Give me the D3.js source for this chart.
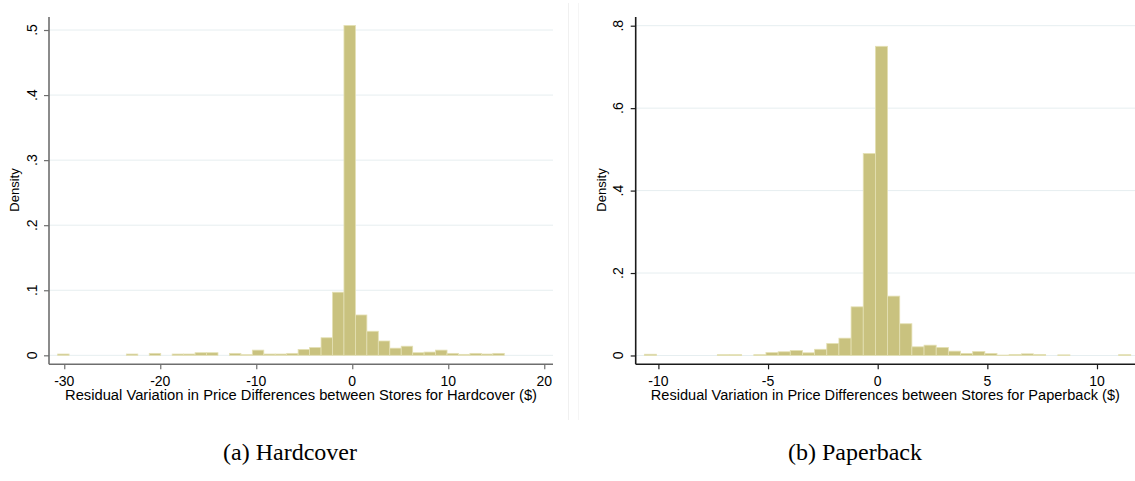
<!DOCTYPE html>
<html lang="en">
<head>
<meta charset="utf-8">
<title>Residual price differences</title>
<script src="https://cdn.jsdelivr.net/npm/d3@7"></script>
<style>
  html, body { margin: 0; padding: 0; background: #fff; }
  svg { display: block; }
  .tick-label { font-family: "Liberation Sans", Arial, sans-serif; font-size: 14px; fill: #000; }
  .axis-title { font-family: "Liberation Sans", Arial, sans-serif; font-size: 13px; fill: #000; }
  .x-title { font-size: 14px; }
  .caption { font-family: "Liberation Serif", "DejaVu Serif", serif; font-size: 24px; fill: #000; }
</style>
</head>
<body>
<div id="chart"></div>
<script>
// hardcover histogram: 39 bins
const hcStart = -30.69;
const hcWidth = 1.193;
const hcDensity = [
  0.002, 0, 0, 0, 0, 0, 0.002, 0, 0.003, 0,
  0.002, 0.002, 0.004, 0.004, 0, 0.003, 0.001, 0.008, 0.002, 0.002,
  0.003, 0.009, 0.012, 0.027, 0.097, 0.507, 0.062, 0.037, 0.022, 0.011,
  0.014, 0.004, 0.005, 0.008, 0.003, 0.0015, 0.003, 0.002, 0.003
];
const hcXTicks = [-30, -20, -10, 0, 10, 20];
const hcYTicks = [0, 0.1, 0.2, 0.3, 0.4, 0.5];

// paperback histogram: 40 bins
const pbStart = -10.64;
const pbWidth = 0.5545;
const pbDensity = [
  0.003, 0, 0, 0, 0, 0, 0.002, 0.002, 0, 0.002,
  0.007, 0.009, 0.012, 0.0065, 0.015, 0.029, 0.042, 0.118, 0.49, 0.75,
  0.144, 0.077, 0.021, 0.025, 0.0195, 0.0105, 0.005, 0.0095, 0.005, 0.001,
  0.0025, 0.004, 0.0025, 0, 0.0015, 0, 0, 0, 0, 0.002
];
const pbXTicks = [-10, -5, 0, 5, 10];
const pbYTicks = [0, 0.2, 0.4, 0.6, 0.8];

const W = 1135, H = 481;
const BAR_FILL = "#c9c27f", BAR_EDGE = "#e4e0b4", GRID = "#e6eef0";

var svg = d3.select("#chart").append("svg")
    .attr("width", W)
    .attr("height", H);

// faint frame lines between the two panels
svg.append("line").attr("x1", 568.5).attr("x2", 568.5).attr("y1", 3).attr("y2", 420)
    .attr("stroke", "#f0f0f0");
svg.append("line").attr("x1", 578.5).attr("x2", 578.5).attr("y1", 3).attr("y2", 420)
    .attr("stroke", "#f5f5f5");

// stata-like tick labels: ".5" instead of "0.5"
function stataFmt(v) {
  if (v === 0) return "0";
  var s = String(+v.toFixed(3));
  return s.replace(/^(-?)0\./, "$1.");
}

function panel(opt) {
  var x = d3.scaleLinear().domain(opt.xDomain).range([opt.left, opt.right]);
  var y = d3.scaleLinear().domain(opt.yDomain).range([opt.bottom, opt.top]);
  var g = svg.append("g");

  // gridlines
  g.selectAll(".grid").data(opt.yTicks).enter().append("line")
      .attr("x1", opt.left).attr("x2", opt.right)
      .attr("y1", d => y(d)).attr("y2", d => y(d))
      .attr("stroke", GRID).attr("stroke-width", 1);

  // bars
  var bins = opt.density.map((d, i) => ({
    x0: opt.start + i * opt.width,
    x1: opt.start + (i + 1) * opt.width,
    v: d
  })).filter(b => b.v > 0);

  g.selectAll(".bar").data(bins).enter().append("rect")
      .attr("x", d => x(d.x0))
      .attr("width", d => x(d.x1) - x(d.x0))
      .attr("y", d => y(d.v))
      .attr("height", d => y(0) - y(d.v))
      .attr("fill", BAR_FILL)
      .attr("stroke", BAR_EDGE)
      .attr("stroke-width", 0.8);

  // y axis (rotated labels, stata style)
  var yAxis = d3.axisLeft(y).tickValues(opt.yTicks).tickSize(5).tickFormat("");
  var ya = g.append("g").attr("transform", "translate(" + opt.left + ",0)").call(yAxis);
  ya.select(".domain").attr("stroke", opt.axisColor).attr("stroke-width", 1.6)
      .attr("d", "M0," + opt.top + "V" + opt.bottom);
  ya.selectAll(".tick line").attr("stroke", opt.axisColor).attr("stroke-width", 1.2);

  g.selectAll(".ylab").data(opt.yTicks).enter().append("text")
      .attr("class", "tick-label")
      .attr("text-anchor", "middle")
      .attr("transform", d => "translate(" + (opt.left - 12.5) + "," + y(d) + ")rotate(-90)")
      .text(stataFmt);

  // x axis
  var xAxis = d3.axisBottom(x).tickValues(opt.xTicks).tickSize(5).tickFormat("");
  var xa = g.append("g").attr("transform", "translate(0," + opt.bottom + ")").call(xAxis);
  xa.select(".domain").attr("stroke", opt.axisColor).attr("stroke-width", 1.6)
      .attr("d", "M" + opt.left + ",0H" + opt.right);
  xa.selectAll(".tick line").attr("stroke", opt.axisColor).attr("stroke-width", 1.2);

  g.selectAll(".xlab").data(opt.xTicks).enter().append("text")
      .attr("class", "tick-label")
      .attr("text-anchor", "middle")
      .attr("x", d => x(d))
      .attr("y", opt.bottom + 22)
      .text(d => String(d));

  // axis titles
  g.append("text")
      .attr("class", "axis-title")
      .attr("text-anchor", "middle")
      .attr("transform", "translate(" + (opt.left - 30) + "," + opt.densityY + ")rotate(-90)")
      .text("Density");

  g.append("text")
      .attr("class", "axis-title x-title")
      .attr("text-anchor", "middle")
      .attr("x", (opt.left + opt.right) / 2)
      .attr("y", opt.bottom + 36)
      .attr("textLength", opt.titleLen)
      .attr("lengthAdjust", "spacingAndGlyphs")
      .text(opt.title);

  svg.append("text")
      .attr("class", "caption")
      .attr("text-anchor", "middle")
      .attr("x", opt.capX)
      .attr("y", 460)
      .text(opt.caption);
}

panel({
  start: hcStart, width: hcWidth, density: hcDensity,
  xTicks: hcXTicks, yTicks: hcYTicks,
  xDomain: [-31.59, 20.91], yDomain: [-0.0138, 0.52],
  left: 49, right: 553, top: 17, bottom: 364.3,
  axisColor: "#6e6e6e",
  densityY: 190,
  title: "Residual Variation in Price Differences between Stores for Hardcover ($)",
  titleLen: 472,
  caption: "(a) Hardcover", capX: 290
});

panel({
  start: pbStart, width: pbWidth, density: pbDensity,
  xTicks: pbXTicks, yTicks: pbYTicks,
  xDomain: [-11.035, 11.733], yDomain: [-0.0214, 0.8211],
  left: 635.7, right: 1135, top: 17, bottom: 364.3,
  axisColor: "#1a1a1a",
  densityY: 190,
  title: "Residual Variation in Price Differences between Stores for Paperback ($)",
  titleLen: 469,
  caption: "(b) Paperback", capX: 855
});
</script>
</body>
</html>
